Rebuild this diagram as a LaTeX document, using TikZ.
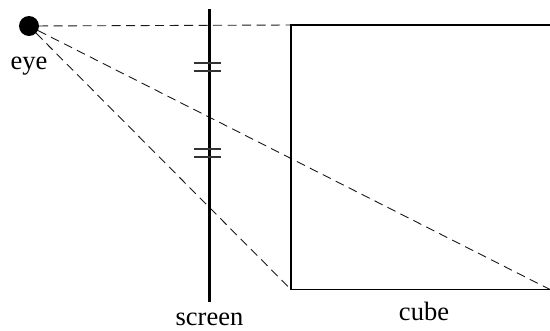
\documentclass[tikz,border=0pt]{standalone}
\usepackage{fontspec}
\setmainfont{Liberation Serif}
\tikzset{
 sight/.style={dashed,dash pattern=on 9pt off 5.5pt,line width=0.9pt,black!90},
 tick/.style={line width=1.1pt,black!80},
 solidedge/.style={line width=1.5pt},
 lab/.style={inner sep=0pt,anchor=base,font=\fontsize{26.5}{26.5}\selectfont}
}
\begin{document}
\begin{tikzpicture}[x=1pt,y=-1pt]
\useasboundingbox (0,0) rectangle (550,330);
\node[circle,fill=black,minimum size=20pt,inner sep=0pt] (eye) at (29,26) {};
\coordinate (tl) at (291,25);
\coordinate (tr) at (550,25);
\coordinate (bl) at (291,289.5);
\coordinate (br) at (550,289.5);
\coordinate (st) at (209,9);
\coordinate (sb) at (209,302);
\coordinate (a1) at (194,63); \coordinate (a2) at (221,63);
\coordinate (b1) at (194,71); \coordinate (b2) at (221,71);
\coordinate (c1) at (194,149); \coordinate (c2) at (221,149);
\coordinate (d1) at (194,157); \coordinate (d2) at (221,157);
\draw[sight] (eye) -- (tl);
\draw[sight] (eye) -- (bl);
\draw[sight] (eye) -- (br);
\draw[line width=3pt] (st) -- (sb);
\draw[tick] (a1) -- (a2);
\draw[tick] (b1) -- (b2);
\draw[tick] (c1) -- (c2);
\draw[tick] (d1) -- (d2);
\draw[solidedge] (tr) -- (tl) -- (bl) -- (br);
\node[lab] (eyelab) at (29,69.5) {eye};
\node[lab] (screenlab) at (209.5,325) {screen};
\node[lab] (cubelab) at (424,320) {cube};
\end{tikzpicture}
\end{document}
